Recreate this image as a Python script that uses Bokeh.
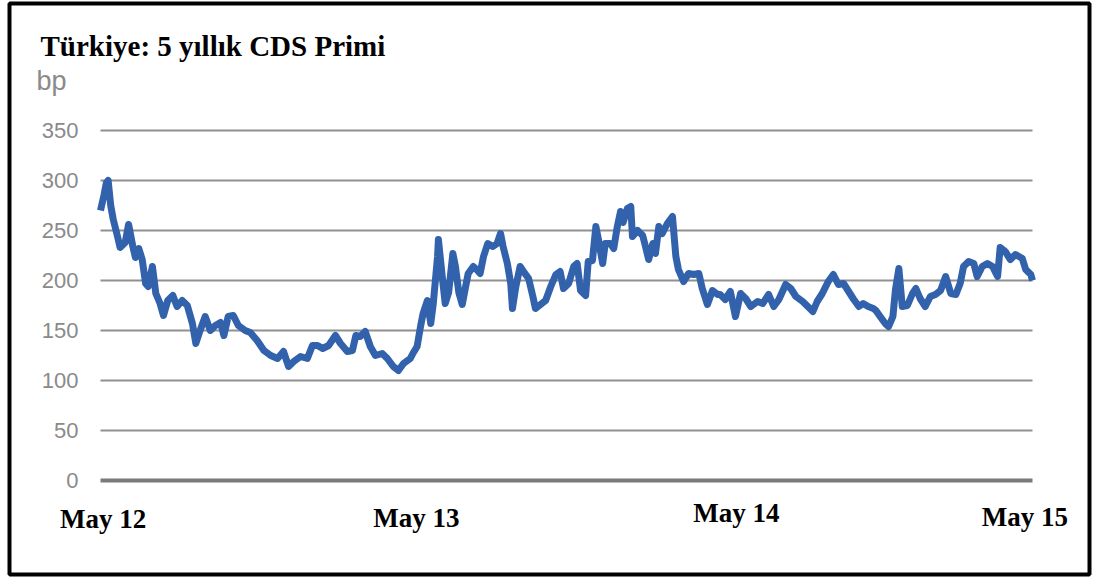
from bokeh.plotting import figure
from bokeh.models import Range1d
from bokeh.core.properties import value
from bokeh.embed import file_html
from bokeh.resources import INLINE

# Days since 1 May 2012 and 5-year CDS premium (bp)
day_offset = [0, 4, 7, 9, 12, 15, 20, 23, 29, 33, 38, 41, 45, 49, 53, 56, 61, 65, 70, 74,
              79, 85, 90, 96, 102, 108, 112, 117, 123, 129, 135, 141, 145, 150, 156, 162, 170, 176, 184, 192,
              200, 208, 215, 221, 227, 235, 243, 249, 255, 261, 268, 276, 282, 290, 296, 300, 305, 311, 317, 323,
              331, 337, 344, 350, 356, 364, 367, 372, 376, 379, 384, 388, 391, 396, 397, 402, 405, 409, 414, 417,
              421, 425, 429, 432, 438, 443, 446, 450, 455, 461, 466, 470, 473, 478, 482, 484, 488, 493, 497, 503,
              508, 511, 517, 523, 529, 535, 540, 544, 550, 556, 560, 564, 570, 573, 578, 582, 585, 590, 593, 599,
              603, 607, 611, 614, 619, 623, 625, 631, 637, 640, 644, 649, 652, 656, 660, 666, 672, 676, 679, 685,
              691, 697, 703, 707, 713, 719, 725, 728, 734, 740, 746, 752, 758, 764, 772, 778, 785, 791, 797, 805,
              811, 817, 825, 831, 837, 842, 848, 855, 861, 867, 873, 879, 885, 891, 896, 902, 908, 911, 916, 922,
              926, 931, 934, 938, 942, 948, 954, 958, 963, 969, 975, 981, 987, 993, 999, 1005, 1010, 1014, 1020, 1026,
              1030, 1036, 1042, 1048, 1054, 1057, 1063, 1069, 1075, 1083, 1087, 1093, 1095]
cds_bp = [270, 285, 298, 300, 275, 261, 244, 233, 238, 256, 234, 223, 232, 221, 197, 194, 214, 187, 177, 165,
          180, 185, 174, 180, 175, 157, 137, 150, 164, 150, 155, 158, 145, 164, 165, 155, 150, 148, 140, 130,
          125, 122, 129, 114, 119, 124, 122, 135, 135, 132, 135, 145, 137, 129, 130, 145, 144, 149, 134, 125,
          127, 122, 114, 110, 117, 122, 127, 134, 154, 167, 180, 157, 177, 224, 241, 200, 177, 188, 227, 214,
          188, 176, 194, 207, 214, 210, 207, 224, 237, 234, 237, 247, 234, 217, 197, 172, 194, 214, 209, 202,
          184, 172, 176, 180, 194, 206, 209, 192, 197, 214, 217, 190, 185, 219, 220, 254, 241, 217, 237, 237,
          232, 253, 269, 258, 272, 274, 244, 250, 245, 235, 221, 237, 227, 254, 247, 257, 264, 224, 211, 199,
          207, 206, 207, 192, 176, 190, 186, 186, 181, 189, 164, 187, 182, 174, 179, 177, 186, 174, 181, 196,
          192, 184, 179, 174, 169, 179, 187, 199, 206, 196, 197, 189, 181, 174, 177, 174, 172, 170, 164, 157,
          154, 164, 191, 212, 174, 175, 187, 192, 182, 174, 184, 186, 190, 204, 187, 186, 197, 214, 219, 217,
          204, 214, 217, 214, 204, 233, 229, 221, 226, 222, 211, 206, 200]

y_ticks = [0, 50, 100, 150, 200, 250, 300, 350]
y_tick_labels = ["0", "50", "100", "150", "200", "250", "300", "350"]
x_tick_days = [3, 371, 747, 1086]
x_tick_labels = ["May 12", "May 13", "May 14", "May 15"]
x_tick_y = [-38, -37, -32, -36]

DAY_PER_PX = 1095 / 932.0
x_start = -100 * DAY_PER_PX
x_end = 1095 + 65 * DAY_PER_PX

p = figure(width=1097, height=578, output_backend="svg", toolbar_location=None,
           x_range=Range1d(x_start, x_end), y_range=Range1d(-98, 480),
           min_border=0)
p.outline_line_color = None
p.background_fill_color = "white"
p.border_fill_color = "white"
p.axis.visible = False
p.grid.visible = False

# horizontal grid lines
grid_vals = y_ticks[1:]
p.segment(x0=[0] * len(grid_vals), x1=[1095] * len(grid_vals), y0=grid_vals, y1=grid_vals,
          line_color="#909090", line_width=2)
p.segment(x0=[0], x1=[1095], y0=[0], y1=[0], line_color="#7a7a7a", line_width=4)

# y tick labels
p.text(x=[-22 * DAY_PER_PX] * len(y_ticks), y=y_ticks, text=y_tick_labels,
       text_font=value("Liberation Sans"), text_font_size="22px", text_color="#8a8a8a",
       text_align="right", text_baseline="middle")

# series
p.line(day_offset, cds_bp, line_color="#3362ad", line_width=7, line_join="round", line_cap="butt")

# title and unit
p.text(x=[-60 * DAY_PER_PX], y=[435], text=["Türkiye: 5 yıllık CDS Primi"],
       text_font=value("Liberation Serif"), text_font_style="bold", text_font_size="29px",
       text_color="black", text_align="left", text_baseline="alphabetic")
p.text(x=[-64 * DAY_PER_PX], y=[400], text=["bp"],
       text_font=value("Liberation Sans"), text_font_size="27px", text_color="#8a8a8a",
       text_align="left", text_baseline="alphabetic")

# x tick labels
p.text(x=x_tick_days, y=x_tick_y, text=x_tick_labels,
       text_font=value("Liberation Serif"), text_font_style="bold", text_font_size="27px",
       text_color="black", text_align="center", text_baseline="alphabetic")

# outer frame
p.quad(left=[-91 * DAY_PER_PX], right=[989 * DAY_PER_PX], top=[477], bottom=[-94],
       fill_color=None, line_color="black", line_width=4)

open("out.html", "w").write(file_html(p, INLINE))
